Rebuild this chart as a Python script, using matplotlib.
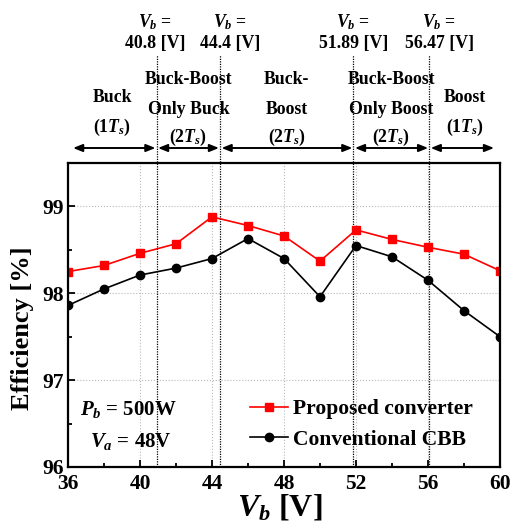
import matplotlib
matplotlib.use("Agg")
import matplotlib.pyplot as plt
from matplotlib.ticker import MultipleLocator
import matplotlib.transforms as mtransforms

# ---- data ----
vb = [36, 38, 40, 42, 44, 46, 48, 50, 52, 54, 56, 58, 60]
proposed = [98.25, 98.32, 98.46, 98.57, 98.88, 98.78, 98.66, 98.37, 98.73, 98.62, 98.53, 98.45, 98.26]
conventional = [97.86, 98.05, 98.21, 98.29, 98.40, 98.63, 98.40, 97.96, 98.55, 98.42, 98.15, 97.80, 97.50]

boundary_labels = ["40.8", "44.4", "51.89", "56.47"]
boundary_pos = [40.92, 44.45, 51.86, 56.07]   # where the dotted lines are drawn

region_lines = [["Buck", "(1$T_s$)"],
                ["Buck-Boost", "Only Buck", "(2$T_s$)"],
                ["Buck-", "Boost", "(2$T_s$)"],
                ["Buck-Boost", "Only Boost", "(2$T_s$)"],
                ["Boost", "(1$T_s$)"]]

series_names = ["Proposed converter", "Conventional CBB"]
cond_text = ["$P_b$ = 500W", "$V_a$ = 48V"]

# ---- style ----
plt.rcParams['font.family'] = ['Liberation Serif', 'DejaVu Serif']
plt.rcParams['font.weight'] = 'bold'
plt.rcParams['mathtext.fontset'] = 'custom'
plt.rcParams['mathtext.rm'] = 'Liberation Serif:bold'
plt.rcParams['mathtext.it'] = 'Liberation Serif:italic:bold'
plt.rcParams['mathtext.bf'] = 'Liberation Serif:bold'

fig = plt.figure(figsize=(5.11, 5.30), dpi=100)
ax = fig.add_axes([68/511, 63/530, 432/511, 304/530])

ax.plot(vb, proposed, color='red', marker='s', markersize=5.5, linewidth=1.2,
        label=series_names[0])
ax.plot(vb, conventional, color='black', marker='o', markersize=6, linewidth=1.2,
        label=series_names[1])

ax.set_xlim(36, 60)
ax.set_ylim(96, 99.5)
ax.xaxis.set_major_locator(MultipleLocator(4))
ax.xaxis.set_minor_locator(MultipleLocator(2))
ax.yaxis.set_major_locator(MultipleLocator(1))
ax.yaxis.set_minor_locator(MultipleLocator(0.5))
ax.grid(True, which='major', color='#b8b8b8', linestyle=':', linewidth=0.8)
ax.set_axisbelow(True)
ax.tick_params(which='both', direction='in', top=False, right=False,
               labelsize=15.5, width=1.3)
ax.tick_params(which='major', length=5)
ax.tick_params(which='minor', length=3)
ax.tick_params(axis='x', pad=5)
ax.tick_params(axis='y', pad=3)
for lab in ax.get_xticklabels() + ax.get_yticklabels():
    lab.set_fontweight('bold')
for s in ax.spines.values():
    s.set_linewidth(1.6)

ax.set_ylabel("Efficiency [%]", fontsize=19, fontweight='bold')
ax.yaxis.set_label_coords(-0.078, 0.455)
ax.set_xlabel("$V_b$ [V]", fontsize=23, fontweight='bold')
ax.xaxis.set_label_coords(0.49, -0.085)

trans = mtransforms.blended_transform_factory(ax.transData, ax.transAxes)

def fy(py):
    return (467 - py) / 304.0

# dotted boundary lines
for x in boundary_pos:
    ax.plot([x, x], [0, fy(55)], transform=trans, color='black', linestyle=(0, (1, 1)),
            linewidth=0.9, clip_on=False, zorder=1)

# boundary labels
label_dx = [-0.1, 0.55, 0.0, 0.55]
for x, lab, dx in zip(boundary_pos, boundary_labels, label_dx):
    ax.text(x + dx, fy(22), "$V_b$ =", transform=trans, ha='center', va='center',
            fontsize=12.8, fontweight='bold')
    ax.text(x + dx, fy(43), lab + " [V]", transform=trans, ha='center', va='center',
            fontsize=12.8, fontweight='bold')

# regions
edges = [36] + boundary_pos + [60]
for i, lines in enumerate(region_lines):
    xc = (edges[i] + edges[i + 1]) / 2
    if len(lines) == 3:
        ys = [80, 109, 137]
    else:
        ys = [98, 127]
    for t, y in zip(lines, ys):
        ax.text(xc, fy(y), t, transform=trans, ha='center', va='center',
                fontsize=12.8, fontweight='bold')
    left = edges[i] + (0.28 if i == 0 else 0.08)
    right = edges[i + 1] - (0.33 if i == len(region_lines) - 1 else 0.06)
    ax.annotate("", xy=(right, fy(148)), xytext=(left, fy(148)),
                xycoords=trans, textcoords=trans,
                arrowprops=dict(arrowstyle='<|-|>,head_length=0.55,head_width=0.22',
                                color='black', lw=1.4, shrinkA=0, shrinkB=0),
                annotation_clip=False)

# conditions
ax.text((80 - 68) / 432, fy(409), cond_text[0], transform=ax.transAxes,
        ha='left', va='center', fontsize=15, fontweight='bold')
ax.text((90 - 68) / 432, fy(442), cond_text[1], transform=ax.transAxes,
        ha='left', va='center', fontsize=15, fontweight='bold')

leg = ax.legend(loc='center left', bbox_to_anchor=((250 - 68) / 432, fy(424.5)),
                frameon=False, handlelength=1.75, handletextpad=0.25,
                borderpad=0, borderaxespad=0, labelspacing=0.5,
                prop={'weight': 'bold', 'size': 15.5})

fig.savefig("out.png", dpi=100)
